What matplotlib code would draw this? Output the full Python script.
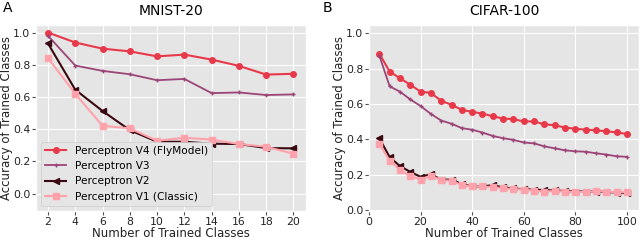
import matplotlib
matplotlib.use('Agg')
import matplotlib.pyplot as plt

# MNIST-20
mnist_x = [2, 4, 6, 8, 10, 12, 14, 16, 18, 20]
mnist_v4 = [1.0, 0.938, 0.90, 0.883, 0.852, 0.863, 0.832, 0.793, 0.739, 0.744]
mnist_v3 = [0.98, 0.795, 0.762, 0.741, 0.704, 0.712, 0.624, 0.628, 0.612, 0.616]
mnist_v2 = [0.932, 0.645, 0.513, 0.394, 0.322, 0.322, 0.31, 0.308, 0.283, 0.281]
mnist_v1 = [0.842, 0.62, 0.421, 0.405, 0.328, 0.347, 0.335, 0.308, 0.291, 0.248]

# CIFAR-100
cifar_x = [4, 8, 12, 16, 20, 24, 28, 32, 36, 40, 44, 48, 52, 56, 60, 64, 68, 72, 76, 80,
           84, 88, 92, 96, 100]
cifar_v4 = [0.885, 0.783, 0.746, 0.709, 0.67, 0.663, 0.618, 0.596, 0.567, 0.556, 0.546,
            0.531, 0.518, 0.515, 0.502, 0.502, 0.485, 0.481, 0.467, 0.461, 0.455, 0.452,
            0.446, 0.44, 0.431]
cifar_v3 = [0.874, 0.70, 0.67, 0.626, 0.589, 0.544, 0.507, 0.489, 0.464, 0.455, 0.439,
            0.42, 0.407, 0.398, 0.383, 0.378, 0.361, 0.35, 0.339, 0.333, 0.331, 0.322,
            0.315, 0.305, 0.302]
cifar_v2 = [0.407, 0.30, 0.25, 0.217, 0.189, 0.204, 0.172, 0.174, 0.148, 0.135, 0.135,
            0.142, 0.129, 0.124, 0.118, 0.117, 0.114, 0.112, 0.109, 0.106, 0.106, 0.106,
            0.104, 0.10, 0.096]
cifar_v1 = [0.374, 0.281, 0.228, 0.194, 0.174, 0.196, 0.17, 0.167, 0.142, 0.135, 0.135,
            0.131, 0.124, 0.12, 0.117, 0.111, 0.106, 0.109, 0.106, 0.102, 0.104, 0.107,
            0.106, 0.102, 0.102]

labels = ['Perceptron V4 (FlyModel)', 'Perceptron V3', 'Perceptron V2',
          'Perceptron V1 (Classic)']
colors = ['#e8394a', '#9c4477', '#3a0810', '#ffa2ac']
markers = ['o', '+', '<', 's']
msizes = [4, 3, 4, 4]
widths = [1.5, 1.3, 1.5, 1.5]

plt.style.use('ggplot')
plt.rcParams['font.family'] = 'DejaVu Sans'
plt.rcParams['xtick.labelcolor'] = '#222222'
plt.rcParams['ytick.labelcolor'] = '#222222'

fig = plt.figure(figsize=(6.4, 2.4), dpi=100)
ax1 = fig.add_axes([0.0558, 0.12, 0.4219, 0.776])
ax2 = fig.add_axes([0.5766, 0.12, 0.4223, 0.7755])

for ys, c, m, ms, lw, lab in zip([mnist_v4, mnist_v3, mnist_v2, mnist_v1], colors, markers,
                                 msizes, widths, labels):
    ax1.plot(mnist_x, ys, color=c, marker=m, ms=ms, lw=lw, label=lab)
for ys, c, m, ms, lw in zip([cifar_v4, cifar_v3, cifar_v2, cifar_v1], colors, markers,
                            msizes, widths):
    ax2.plot(cifar_x, ys, color=c, marker=m, ms=ms, lw=lw)

ax1.set_xticks(mnist_x)
ax1.set_ylim(-0.109, 1.047)
ax1.set_yticks([0.0, 0.2, 0.4, 0.6, 0.8, 1.0])
ax1.set_title('MNIST-20', fontsize=10, color='black', pad=7)
ax1.legend(loc='lower left', fontsize=7.6, framealpha=1)

ax2.set_xlim(left=0)
ax2.set_ylim(-0.005, 1.046)
ax2.set_yticks([0.0, 0.2, 0.4, 0.6, 0.8, 1.0])
ax2.set_title('CIFAR-100', fontsize=10, color='black', pad=7)

for ax in (ax1, ax2):
    ax.set_xlabel('Number of Trained Classes', fontsize=8.5, color='#222222', labelpad=0)
    ax.set_ylabel('Accuracy of Trained Classes', fontsize=8.5, color='#222222', labelpad=0)
    ax.tick_params(labelsize=7.8, length=3, pad=1)

fig.text(0.004, 0.995, 'A', fontsize=10, va='top')
fig.text(0.504, 0.995, 'B', fontsize=10, va='top')

fig.savefig('out.png', dpi=100)
